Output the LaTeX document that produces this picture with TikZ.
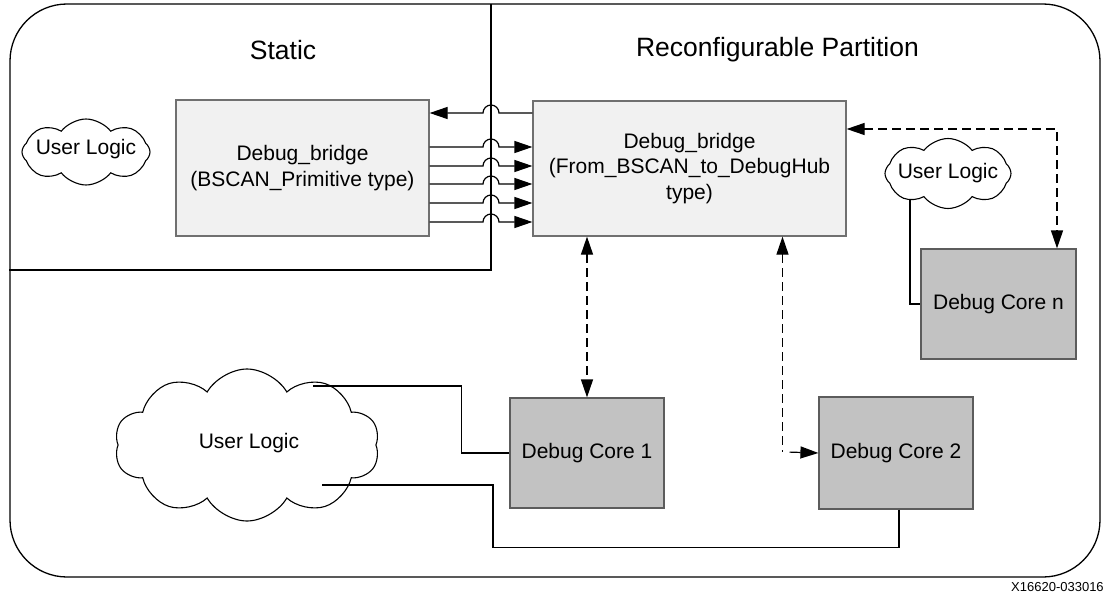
\documentclass[tikz,border=0pt]{standalone}
\usepackage{fontspec}
\setmainfont{Liberation Sans}
\usetikzlibrary{arrows.meta,shapes.symbols,calc}
\definecolor{bridgefill}{HTML}{F1F1F1}
\definecolor{bridgeline}{HTML}{707070}
\definecolor{corefill}{HTML}{C2C2C2}
\definecolor{coreline}{HTML}{5C5C5C}
% horizontal wire that hops over the partition boundary (coordinate dv)
% #1 style, #2 start, #3 end node anchor, #4 signed hop radius
\newcommand\busline[4]{%
  \draw[#1] (#2) coordinate (j0) -- ($(dv |- j0)+(#4,0)$)
    arc[start angle={#4<0?180:0}, end angle={#4<0?0:180}, radius=8pt]
    -- (#3 |- j0);}
\begin{document}
\begin{tikzpicture}[x=1pt,y=-1pt,
  txt/.style={font=\fontsize{21}{25.5}\selectfont, align=center},
  title/.style={font=\fontsize{26.5}{30}\selectfont},
  wire/.style={line width=1.2pt, draw=black},
  tip/.tip={Triangle[length=18pt,width=12pt]},
  sig/.style={wire, -tip},
  dashsig/.style={wire, dash pattern=on 9pt off 5pt},
  bridge/.style={txt, draw=bridgeline, fill=bridgefill, line width=1.2pt, inner sep=0pt},
  core/.style={txt, draw=coreline, fill=corefill, line width=1.2pt, minimum width=154pt, minimum height=110pt, inner sep=0pt},
  ucloud/.style={cloud, cloud puffs=10, cloud puff arc=120, cloud ignores aspect, draw=black, fill=white, line width=1.1pt, inner sep=0pt},
  smallcloud/.style={ucloud, cloud puffs=8, cloud puff arc=105},
]
\useasboundingbox (0,0) rectangle (1106,594);

% device outline and partition boundary
\node[draw, line width=1.3pt, rounded corners=57pt, minimum width=1090pt, minimum height=573pt, inner sep=0pt] (board) at (555,290.5) {};
\coordinate (dv) at (491,4);
\draw[line width=1.3pt] (dv) -- (491,270) -- (board.west |- 0,270);

\node[title] (tst) at (283,50) {Static};
\node[title] (trp) at (777.5,50) {Reconfigurable Partition};

% debug bridges
\node[bridge, minimum width=253pt, minimum height=136pt] (sb) at (302.5,168) {Debug\_bridge\\(BSCAN\_Primitive type)};
\node[bridge, minimum width=313pt, minimum height=135pt] (rb) at (689.5,168.5) {Debug\_bridge\\(From\_BSCAN\_to\_DebugHub\\type)};

% debug cores
\node[core] (c1) at (587,453) {Debug Core 1};
\node[core, minimum height=112pt] (c2) at (896,453) {Debug Core 2};
\node[core, minimum width=155pt] (cn) at (998.5,304) {Debug Core n};

% user logic clouds
\draw[wire] (910,200) |- (cn.west);
\node[smallcloud, minimum width=128pt, minimum height=66pt] (lc) at (86,152) {};
\node[txt] (lct) at (86,149) {User Logic};
\node[smallcloud, minimum width=126pt, minimum height=70pt] (rc) at (948,173.5) {};
\node[txt] (rct) at (948,173) {User Logic};
\node[ucloud, minimum width=265pt, minimum height=152pt] (bc) at (247,445) {};
\node[txt] (bct) at (249,443) {User Logic};

% BSCAN signals across the partition boundary
\busline{sig}{[yshift=55.5pt]rb.west}{sb.east}{8}
\busline{sig}{[yshift=21pt]sb.east}{rb.west}{-8}
\busline{sig}{[yshift=2pt]sb.east}{rb.west}{-8}
\busline{sig}{[yshift=-16pt]sb.east}{rb.west}{-8}
\busline{sig}{[yshift=-35pt]sb.east}{rb.west}{-8}
\busline{sig}{[yshift=-54pt]sb.east}{rb.west}{-8}

% debug hub connections
\draw[dashsig, tip-tip] (c1.north |- rb.south) -- (c1.north);
\draw[dashsig, tip-] ([xshift=93pt]rb.south) -- ++(0,215.5) coordinate (k2);
\draw[wire, -tip] ([xshift=7pt]k2) -- (c2.west);
\draw[dashsig, tip-tip] ([yshift=39.5pt]rb.east) -| ([xshift=58.5pt]cn.north);

% user logic wiring
\draw[wire] ([xshift=66pt,yshift=59pt]bc.center) -| ([xshift=-48pt]c1.west) -- (c1.west);
\draw[wire] ([xshift=3pt]c2.south) -- ++(0,38) -| (493,485) -- ([xshift=75pt,yshift=-40pt]bc.center);

\node[font=\fontsize{13}{15}\selectfont, anchor=west, inner sep=0pt] (fig) at (1011,587) {X16620-033016};
\end{tikzpicture}
\end{document}
